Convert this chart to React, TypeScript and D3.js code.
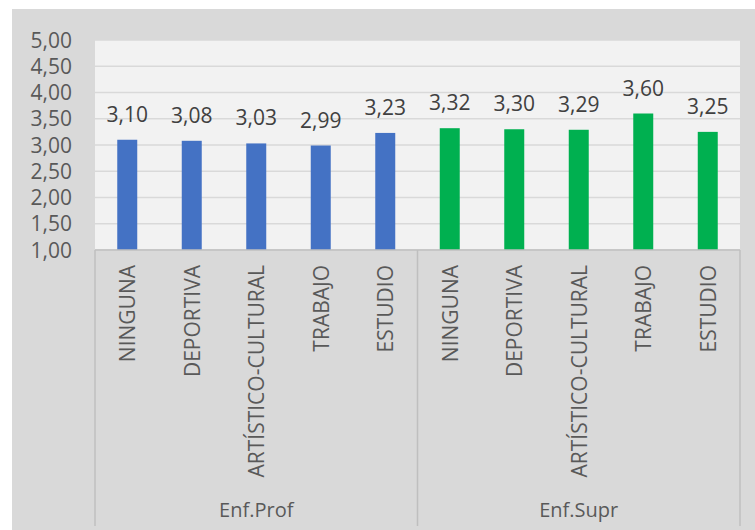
import React from "react";
import * as d3 from "d3";

const groups = ["Enf.Prof", "Enf.Supr"];
const activities = ["NINGUNA", "DEPORTIVA", "ARTÍSTICO-CULTURAL", "TRABAJO", "ESTUDIO"];
const profValues = [3.10, 3.08, 3.03, 2.99, 3.23];
const suprValues = [3.32, 3.30, 3.29, 3.60, 3.25];
const groupColors = ["#4472C4", "#00B050"];
const yTicks = [1, 1.5, 2, 2.5, 3, 3.5, 4, 4.5, 5];

const W = 755, H = 530;
const FONT = "'Open Sans', 'Liberation Sans', sans-serif";
const fmt = (v: number) => v.toFixed(2).replace(".", ",");

export default function App() {
  const rows = [
    ...activities.map((a, i) => ({ key: `0-${i}`, group: 0, label: a, value: profValues[i] })),
    ...activities.map((a, i) => ({ key: `1-${i}`, group: 1, label: a, value: suprValues[i] })),
  ];
  const left = 95, right = 740, top = 40, bottom = 250, axisBottom = 526;
  const x = d3.scaleBand<string>().domain(rows.map(r => r.key)).range([left, right]).paddingInner(0.69).paddingOuter(0.345);
  const xOuter = d3.scaleBand<string>().domain(rows.map(r => r.key)).range([left, right]);
  const y = d3.scaleLinear().domain([1, 5]).range([bottom, top]);
  const gx = d3.scaleBand<number>().domain([0, 1]).range([left, right]);

  return (
    <svg width={W} height={H} style={{ position: "absolute", left: 0, top: 0 }}>
      <rect x={12} y={9} width={W - 12} height={H - 9} fill="#D9D9D9" />
      <rect x={left} y={top} width={right - left} height={bottom - top} fill="#F2F2F2" />
      {yTicks.map(t => (
        <line key={t} x1={left} x2={right} y1={y(t)} y2={y(t)} stroke="#D9D9D9" strokeWidth={1.5} />
      ))}
      {yTicks.map(t => (
        <text key={"l" + t} x={72} y={y(t)} dy="0.36em" textAnchor="end" fontFamily={FONT} fontSize={21} fill="#595959">
          {fmt(t)}
        </text>
      ))}
      {rows.map(r => (
        <rect key={r.key} x={x(r.key)} y={y(r.value)} width={x.bandwidth()} height={y(1) - y(r.value)} fill={groupColors[r.group]} />
      ))}
      {rows.map(r => (
        <text key={"v" + r.key} x={(x(r.key) as number) + x.bandwidth() / 2} y={y(r.value) - 18} textAnchor="middle" fontFamily={FONT} fontSize={21} fill="#404040">
          {fmt(r.value)}
        </text>
      ))}
      <line x1={left} x2={right} y1={bottom} y2={bottom} stroke="#BFBFBF" strokeWidth={1.5} />
      {[left, (gx(1) as number), right].map((lx, i) => (
        <line key={"d" + i} x1={lx} x2={lx} y1={bottom} y2={axisBottom} stroke="#BFBFBF" strokeWidth={1.5} />
      ))}
      {rows.map(r => {
        const cx = (xOuter(r.key) as number) + xOuter.bandwidth() / 2;
        return (
          <text key={"c" + r.key} transform={`translate(${cx},265) rotate(-90)`} textAnchor="end" dominantBaseline="central" fontFamily={FONT} fontSize={21} fill="#595959">
            {r.label}
          </text>
        );
      })}
      {groups.map((g, i) => (
        <text key={g} x={(gx(i) as number) + gx.bandwidth() / 2} y={517} textAnchor="middle" fontFamily={FONT} fontSize={20} fill="#595959">
          {g}
        </text>
      ))}
    </svg>
  );
}
